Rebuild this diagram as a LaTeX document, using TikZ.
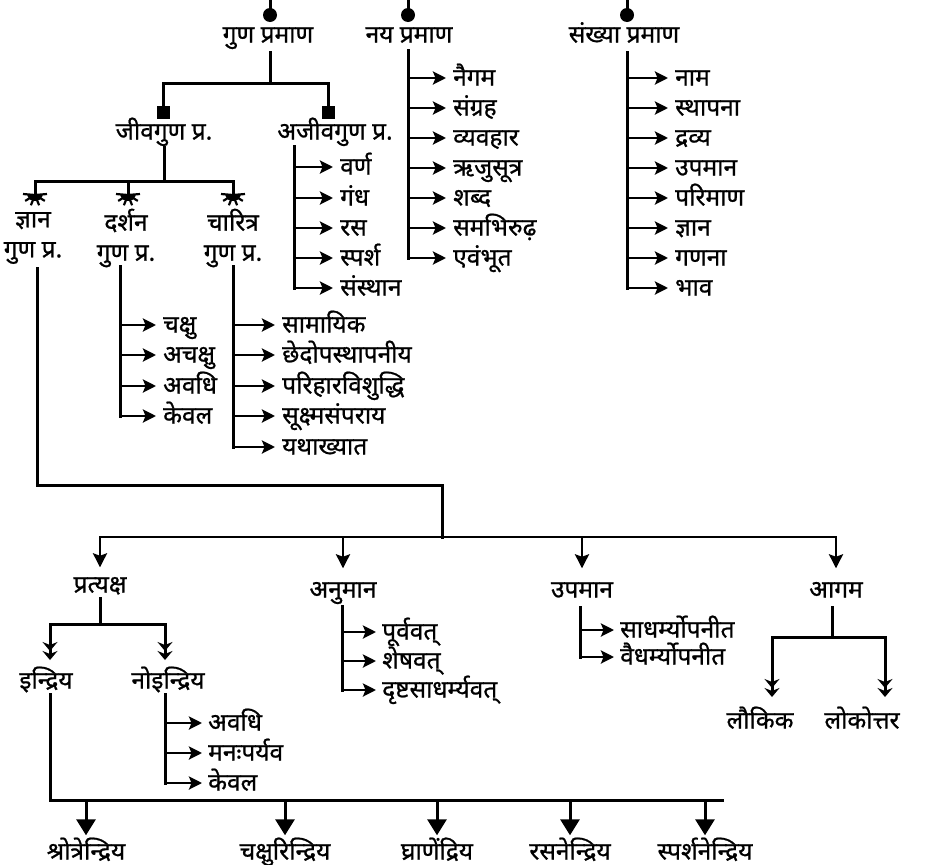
\documentclass[tikz,border=0pt]{standalone}
\usepackage{fontspec}
\setmainfont{Noto Sans}[Script=Devanagari,FakeBold=0.8]
\usetikzlibrary{arrows.meta}
\begin{document}
\begin{tikzpicture}[x=1pt,y=-1pt,
  every node/.style={font=\fontsize{24.5}{30}\selectfont, inner sep=0pt},
  lbl/.style={anchor=center, text height=17pt, text depth=2pt},
  lbltwo/.style={anchor=center, align=center},
  item/.style={anchor=west, text height=17pt, text depth=2pt},
  ln/.style={line width=3pt, line cap=rect},
  larr/.style={line width=2.6pt, -{Stealth[length=13pt,width=13pt,inset=2.5pt]}},
  darr/.style={line width=2.8pt, -{Stealth[length=14pt,width=14pt,inset=2.5pt]}},
  barr/.style={line width=3pt, -{Triangle[length=16pt,width=19pt]}},
  dchev/.style={line width=3pt, -{Stealth[length=9pt,width=15pt,inset=3pt]Stealth[length=9pt,width=15pt,inset=3pt]}},
  spark/.pic={
    \fill (-8,0) -- (-7,3) -- (-4.5,5.8) -- (0,7) -- (4.5,5.8) -- (7,3) -- (8,0) -- cycle;
    \foreach \a in {0,35,70,110,145,180} \draw[line width=2.2pt] (0,1) -- (\a:12);
  }
]
\useasboundingbox (0,0) rectangle (927,865);
\clip (0,0) rectangle (927,865);

% ---------- top titles ----------
\node[lbl] (gun) at (268,35) {गुण प्रमाण};
\node[lbl] (naya) at (409,35) {नय प्रमाण};
\node[lbl] (sankhya) at (624,35) {संख्या प्रमाण};
\foreach \c/\x in {gunD/270,nayaD/408,sankD/627}{
  \coordinate (\c) at (\x,15);
  \coordinate (\c T) at (\x,0);
  \draw[line width=3pt] (\c T) -- (\c);
  \fill (\c) circle (7pt);
}

% ---------- guna pramana ----------
\coordinate (gunB) at (270,52);
\coordinate (gunH) at (270,83);
\coordinate (jivaS) at (163,112);
\coordinate (ajivaS) at (328,112);
\draw[ln] (gunB) -- (gunH);
\draw[ln] (jivaS) -- (jivaS |- gunH) -- (ajivaS |- gunH) -- (ajivaS);
\fill (jivaS) ++(-6.5,-6.5) rectangle ++(13,13);
\fill (ajivaS) ++(-6.5,-6.5) rectangle ++(13,13);
\node[lbl] (jiva) at (164,132) {जीवगुण प्र.};
\node[lbl] (ajiva) at (335,132) {अजीवगुण प्र.};

% ajiva list
\coordinate (ajT) at (294,146);
\foreach \n/\y/\t in {vr/167/वर्ण,gd/198/गंध,rs/228/रस,sp/258/स्पर्श,ss/288/संस्थान}{
  \node[item] (\n) at (340,\y) {\t};
  \draw[larr] (\n.west -| ajT) -- ([xshift=-7pt]\n.west);
}
\draw[ln] (ajT) -- (ajT |- ss.west);

% naya list
\coordinate (nayaT) at (408,50);
\foreach \n/\y/\t in {ng/78/नैगम,sgr/108/संग्रह,vy/138/व्यवहार,rj/168/ऋजुसूत्र,sb/198/शब्द,sm/228/समभिरुढ़,ev/258/एवंभूत}{
  \node[item] (\n) at (453,\y) {\t};
  \draw[larr] (\n.west -| nayaT) -- ([xshift=-7pt]\n.west);
}
\draw[ln] (nayaT) -- (nayaT |- ev.west);

% sankhya list
\coordinate (sankT) at (627,52);
\foreach \n/\y/\t in {nm/78/नाम,st/108/स्थापना,dr/138/द्रव्य,up/168/उपमान,pr/198/परिमाण,jn/228/ज्ञान,gn/258/गणना,bh/288/भाव}{
  \node[item] (\n) at (675,\y) {\t};
  \draw[larr] (\n.west -| sankT) -- ([xshift=-7pt]\n.west);
}
\draw[ln] (sankT) -- (sankT |- bh.west);

% ---------- jiva guna ----------
\coordinate (jvB) at (164,147);
\coordinate (jvH) at (164,181);
\coordinate (jnM) at (35,194);
\coordinate (dsM) at (128,194);
\coordinate (chM) at (233,194);
\draw[ln] (jvB) -- (jvH);
\draw[ln] (jnM) -- (jnM |- jvH) -- (chM |- jvH) -- (chM);
\draw[ln] (dsM |- jvH) -- (dsM);
\pic at (jnM) {spark};
\pic at (dsM) {spark};
\pic at (chM) {spark};
\node[lbltwo] (jnana) at (33,238) {ज्ञान\\गुण प्र.};
\node[lbltwo] (darshana) at (126,238) {दर्शन\\गुण प्र.};
\node[lbltwo] (charitra) at (233,238) {चारित्र\\गुण प्र.};

% darshana list
\coordinate (dsT) at (120,266);
\foreach \n/\y/\t in {ck/325/चक्षु,ack/355/अचक्षु,av/386/अवधि,kv/416/केवल}{
  \node[item] (\n) at (163,\y) {\t};
  \draw[larr] (\n.west -| dsT) -- ([xshift=-7pt]\n.west);
}
\draw[ln] (dsT) -- (dsT |- kv.west);

% charitra list
\coordinate (chT) at (233,266);
\foreach \n/\y/\t in {sa/325/सामायिक,ch/355/छेदोपस्थापनीय,ph/386/परिहारविशुद्धि,su/416/सूक्ष्मसंपराय,ya/447/यथाख्यात}{
  \node[item] (\n) at (282,\y) {\t};
  \draw[larr] (\n.west -| chT) -- ([xshift=-7pt]\n.west);
}
\draw[ln] (chT) -- (chT |- ya.west);

% ---------- jnana guna -> four pramanas ----------
\coordinate (jnB) at (37,268);
\coordinate (jnC) at (442,485);
\coordinate (pH) at (442,537);
\draw[ln] (jnB) |- (jnC) -- (pH);

\node[lbl] (pratyaksha) at (100,585) {प्रत्यक्ष};
\node[lbl] (anumana) at (343,590) {अनुमान};
\node[lbl] (upamana) at (582,590) {उपमान};
\node[lbl] (agama) at (836,590) {आगम};
\draw[darr, shorten >=8pt] (pH) -| (pratyaksha.north);
\draw[darr, shorten >=12pt] (pH) -| (agama.north);
\draw[darr, shorten >=12pt] (anumana.north |- pH) -- (anumana.north);
\draw[darr, shorten >=12pt] (upamana.north |- pH) -- (upamana.north);

% pratyaksha
\coordinate (prB) at (100,598);
\coordinate (prH) at (100,624);
\coordinate (inM) at (50,660);
\coordinate (noM) at (165,660);
\draw[ln] (prB) -- (prH);
\draw[dchev] (prH) -| (inM);
\draw[dchev] (prH) -| (noM);
\node[lbl] (indriya) at (46,681) {इन्द्रिय};
\node[lbl] (noindriya) at (168,681) {नोइन्द्रिय};

% noindriya list
\coordinate (noT) at (165,694);
\foreach \n/\y/\t in {nav/723/अवधि,nmp/753/मनःपर्यव,nkv/783/केवल}{
  \node[item] (\n) at (208,\y) {\t};
  \draw[larr] (\n.west -| noT) -- ([xshift=-6pt]\n.west);
}
\draw[ln] (noT) -- (noT |- nkv.west);

% indriya -> five senses
\coordinate (inB) at (50,694);
\coordinate (inR) at (722,800);
\draw[ln] (inB) |- (inR);
\foreach \n/\x/\t in {sr/86/श्रोत्रेन्द्रिय,ca/285/चक्षुरिन्द्रिय,gh/437/घ्राणेंद्रिय,ra/570/रसनेन्द्रिय,spr/705/स्पर्शनेन्द्रिय}{
  \node[lbl] (\n) at (\x,852) {\t};
  \draw[barr, shorten >=7pt] (\n.north |- inR) -- (\n.north);
}

% anumana list
\coordinate (anT) at (342,606);
\foreach \n/\y/\t in {pv/632/पूर्ववत्,sv/661/शेषवत्,ds/690/दृष्टसाधर्म्यवत्}{
  \node[item] (\n) at (382,\y) {\t};
  \draw[larr] (\n.west -| anT) -- ([xshift=-6pt]\n.west);
}
\draw[ln] (anT) -- (anT |- ds.west);

% upamana list
\coordinate (upT) at (580,607);
\foreach \n/\y/\t in {sdh/630/साधर्म्योपनीत,vdh/657/वैधर्म्योपनीत}{
  \node[item] (\n) at (620,\y) {\t};
  \draw[larr] (\n.west -| upT) -- ([xshift=-6pt]\n.west);
}
\draw[ln] (upT) -- (upT |- vdh.west);

% agama
\coordinate (agB) at (832,607);
\coordinate (agH) at (832,637);
\coordinate (lkM) at (772,697);
\coordinate (lkoM) at (885,697);
\draw[ln] (agB) -- (agH);
\draw[dchev] (agH) -| (lkM);
\draw[dchev] (agH) -| (lkoM);
\node[lbl] (laukika) at (760,721) {लौकिक};
\node[lbl] (lokottara) at (862,721) {लोकोत्तर};
\end{tikzpicture}
\end{document}
